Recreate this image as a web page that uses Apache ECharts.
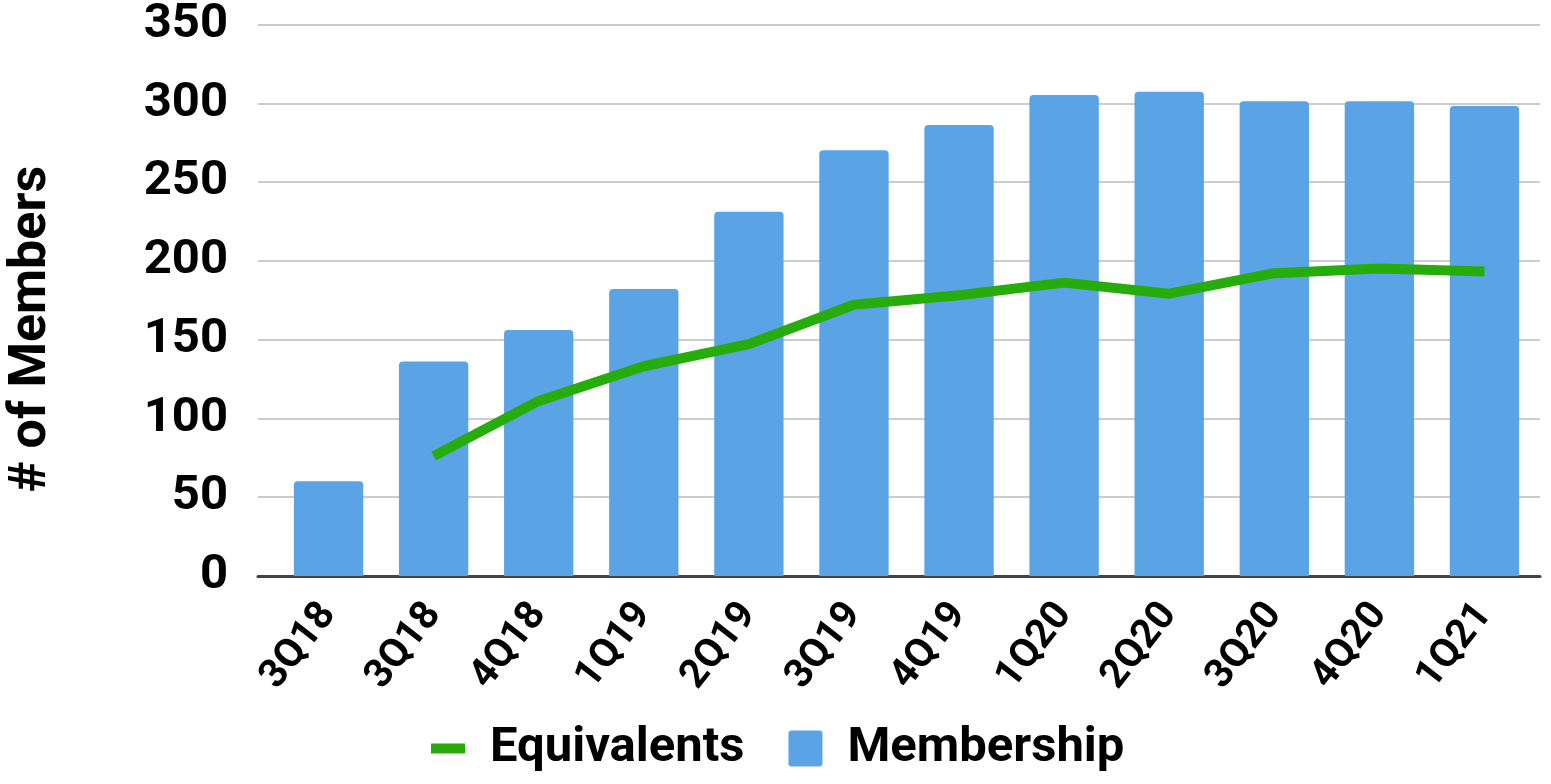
<!DOCTYPE html>
<html><head><meta charset="utf-8">
<script src="https://cdn.jsdelivr.net/npm/echarts@6/dist/echarts.min.js"></script>
<style>html,body{margin:0;padding:0;background:#fff}#c{width:1551px;height:784px}</style>
</head><body><div id="c"></div>
<script>
const categories = ['3Q18','3Q18','4Q18','1Q19','2Q19','3Q19','4Q19','1Q20','2Q20','3Q20','4Q20','1Q21'];
const membership = [60, 136, 156, 182, 231, 270, 286, 305, 307, 301, 301, 298];
const equivalents = [null, 76, 111, 133, 147, 172, 178, 186, 179, 192, 195, 193];
const yTicks = {min: 0, max: 350, interval: 50};

const chart = echarts.init(document.getElementById('c'));
const font = 'Roboto';
chart.setOption({
  animation: false,
  grid: [
    {left: 258, right: 11, top: 24, bottom: 208},
    {left: 276, right: 14, top: 24, bottom: 208}
  ],
  legend: {
    top: 719, left: 426, itemGap: 44, itemWidth: 34, itemHeight: 36,
    textStyle: {fontFamily: font, fontWeight: 'bold', fontSize: 49, color: '#000', padding: [0,0,0,20]},
    data: [
      {name: 'Equivalents', icon: 'path://M0,13L34,13L34,23L0,23Z'},
      {name: 'Membership', icon: 'path://M3,0L31,0Q34,0 34,3L34,33Q34,36 31,36L3,36Q0,36 0,33L0,3Q0,0 3,0Z'}
    ]
  },
  xAxis: [
    {type: 'value', gridIndex: 0, min: 0, max: 1, show: true,
     axisLine: {show: true, onZero: false, lineStyle: {color: '#444', width: 3}},
     axisTick: {show: false}, axisLabel: {show: false}, splitLine: {show: false}},
    {type: 'category', gridIndex: 1, data: categories,
     axisLine: {show: false},
     axisTick: {show: false},
     axisLabel: {rotate: 52, margin: 32, padding: [22,0,0,0], fontFamily: font, fontWeight: 'bold', fontSize: 40, color: '#000', interval: 0}}
  ],
  yAxis: [
    {type: 'value', gridIndex: 0, min: yTicks.min, max: yTicks.max, interval: yTicks.interval,
     axisLine: {show: false}, axisTick: {show: false},
     axisLabel: {margin: 30, fontFamily: font, fontWeight: 'bold', fontSize: 49, color: '#000'},
     splitLine: {lineStyle: {color: '#cccccc', width: 2}}},
    {type: 'value', gridIndex: 1, min: yTicks.min, max: yTicks.max, interval: yTicks.interval,
     show: false, splitLine: {show: false}}
  ],
  graphic: [{
    type: 'text', x: 32, y: 329, rotation: Math.PI / 2,
    style: {text: '# of Members', fontFamily: font, fontWeight: 'bold', fontSize: 52, fill: '#000',
            align: 'center', verticalAlign: 'middle'}
  }],
  series: [
    {name: 'Membership', type: 'bar', xAxisIndex: 1, yAxisIndex: 1, data: membership, barWidth: '66%',
     itemStyle: {color: '#5aa4e6', borderRadius: [4,4,0,0]}, z: 1},
    {name: 'Equivalents', type: 'line', xAxisIndex: 1, yAxisIndex: 1, data: equivalents, showSymbol: false, symbol: 'none',
     lineStyle: {color: '#26ad0b', width: 10}, itemStyle: {color: '#26ad0b'}, z: 3}
  ]
});
</script></body></html>
